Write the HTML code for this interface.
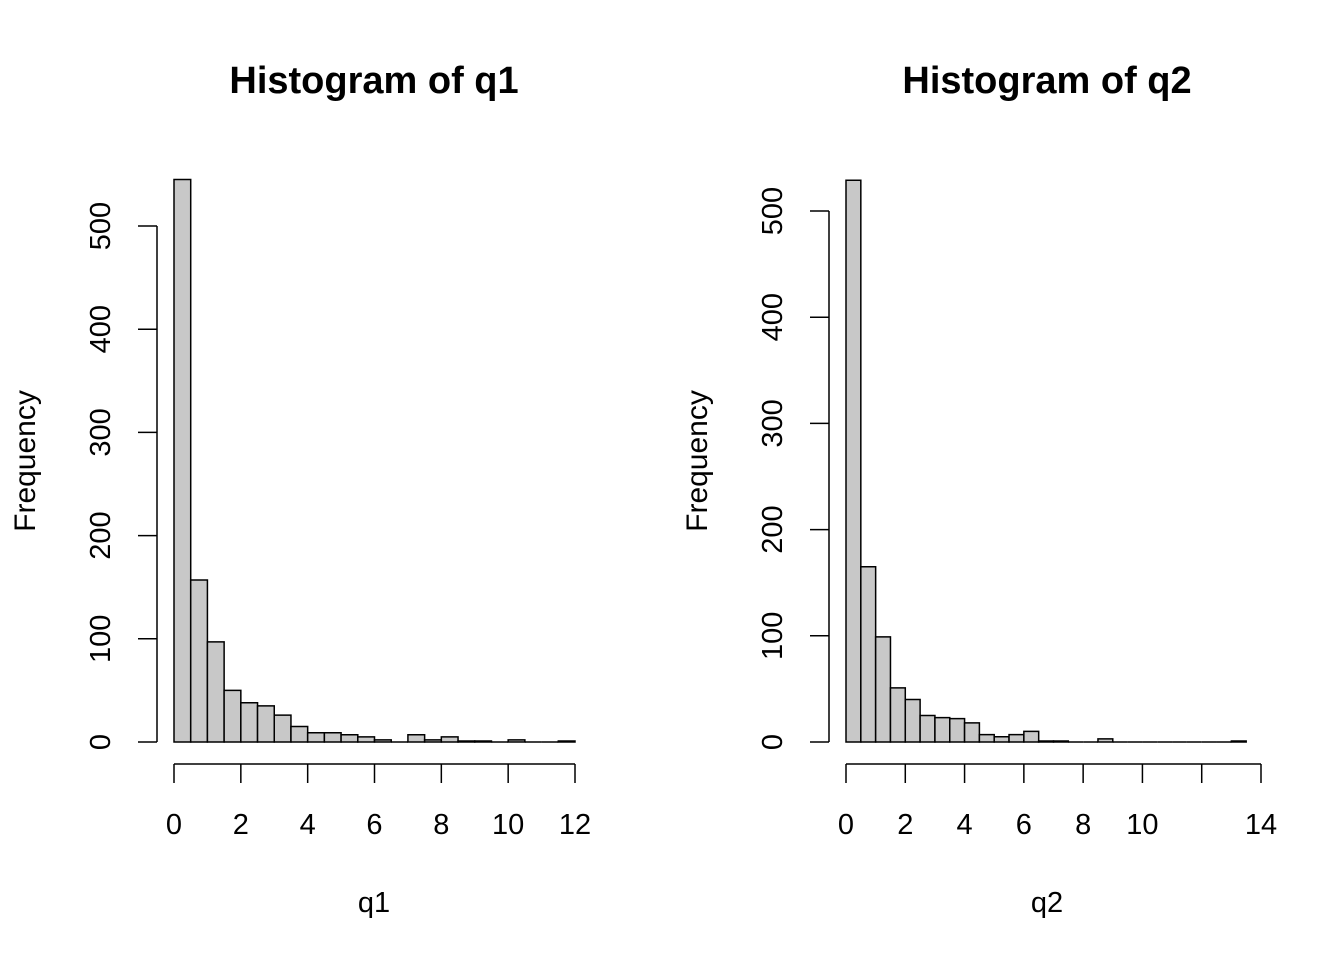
<!DOCTYPE html>
<html><head><meta charset="utf-8"><style>
body{margin:0;background:#fff}
svg text{font-family:"Liberation Sans",Arial,sans-serif;fill:#000}
</style></head><body>
<svg id="s" width="1344" height="960" xmlns="http://www.w3.org/2000/svg"></svg>
<script>
const q1Counts=[545,157,97,50,38,35,26,15,9,9,7,5,2,0,7,2,5,1,1,0,2,0,0,1];
const q2Counts=[529,165,99,51,40,25,23,22,18,7,5,7,10,1,1,0,0,3,0,0,0,0,0,0,0,0,1];
const q1XTicks=[0,2,4,6,8,10,12];
const q2XTicks=[0,2,4,6,8,10,12,14];
const q2XTickLabels=["0","2","4","6","8","10","","14"];
const yTicks=[0,100,200,300,400,500];
const binWidth=0.5;
const NS="http://www.w3.org/2000/svg";
const svg=document.getElementById('s');
function mk(t,a,p){const e=document.createElementNS(NS,t);for(const k in a)e.setAttribute(k,a[k]);(p||svg).appendChild(e);return e;}
function panel(o){
  const g=mk('g',{});
  
  
  const X=v=>o.x0+(v-o.xmin)*(o.x1-o.x0)/(o.xmax-o.xmin);
  const Y=v=>742-v*(742-o.y500)/500;
  o.counts.forEach((c,i)=>{
    const xa=X(i*binWidth),xb=X((i+1)*binWidth),yt=Y(c);
    const r=mk('path',{d:`M${xa},742 L${xa},${yt} L${xb},${yt} L${xb},742 Z`,fill:'#c8c8c8',stroke:'#000','stroke-width':1.5},g);
    
    
  });
  const t=mk('text',{x:o.cx,y:93,'text-anchor':'middle','font-size':38,'font-weight':'bold'},g);
  t.textContent=o.title;
  
  
  const xa=mk('g',{},g);
  
  
  mk('line',{x1:X(o.xticks[0]),x2:X(o.xticks[o.xticks.length-1]),y1:764,y2:764,stroke:'#000','stroke-width':1.5},xa);
  o.xticks.forEach((v,i)=>{
    mk('line',{x1:X(v),x2:X(v),y1:764,y2:783,stroke:'#000','stroke-width':1.5},xa);
    const tx=mk('text',{x:X(v),y:834,'text-anchor':'middle','font-size':29},xa);
    tx.textContent=o.xlabels?o.xlabels[i]:String(v);
    
    
  });
  const xl=mk('text',{x:o.cx,y:912,'text-anchor':'middle','font-size':29},g);
  xl.textContent=o.xlab;
  
  
  const ya=mk('g',{},g);
  
  
  mk('line',{x1:o.yax,x2:o.yax,y1:Y(0),y2:Y(500),stroke:'#000','stroke-width':1.5},ya);
  yTicks.forEach(v=>{
    mk('line',{x1:o.yax,x2:o.yax-19,y1:Y(v),y2:Y(v),stroke:'#000','stroke-width':1.5},ya);
    const cx=o.yax-57;
    const ty=mk('text',{x:cx,y:Y(v),'text-anchor':'middle','font-size':29,transform:`rotate(-90 ${cx} ${Y(v)})`,dy:10},ya);
    ty.textContent=String(v);
    
    
  });
  const lx=o.yax-132;
  const yl=mk('text',{x:lx,y:461,'text-anchor':'middle','font-size':30,transform:`rotate(-90 ${lx} 461)`,dy:10},g);
  yl.textContent='Frequency';
  
  
}
panel({name:'histogram-q1',counts:q1Counts,xticks:q1XTicks,xmin:0,xmax:12,x0:174,x1:575,y500:226,yax:157,cx:374,title:'Histogram of q1',xlab:'q1'});
panel({name:'histogram-q2',counts:q2Counts,xticks:q2XTicks,xlabels:q2XTickLabels,xmin:0,xmax:14,x0:846,x1:1261,y500:211,yax:829,cx:1047,title:'Histogram of q2',xlab:'q2'});
</script>
</body></html>
